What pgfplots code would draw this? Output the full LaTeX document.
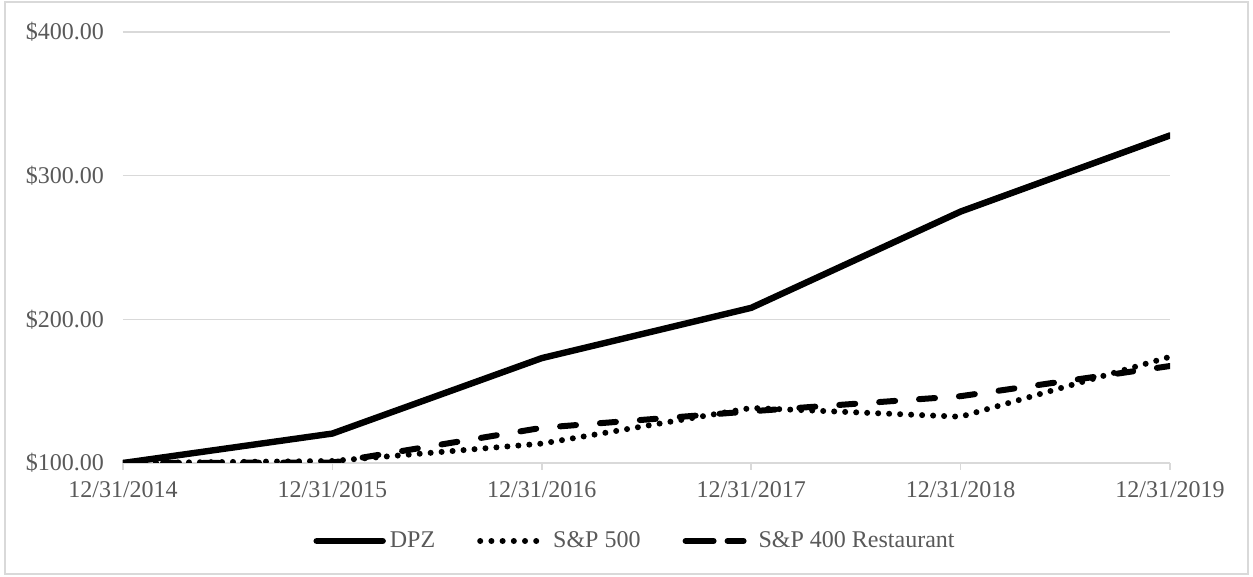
\documentclass[border=0pt]{standalone}
\usepackage{fontspec}
\setmainfont{Liberation Serif}
\usepackage{pgfplots}
\pgfplotsset{compat=1.18}
\definecolor{txt}{HTML}{595959}
\definecolor{grd}{HTML}{D9D9D9}

\tikzset{
    dpz/.style={black, line width=3.2pt, line cap=round, line join=round},
    spx/.style={black, line width=3pt, line cap=round, dash pattern=on 0pt off 5.5pt},
    rest/.style={black, line width=3pt, line cap=round, dash pattern=on 8pt off 12pt},
}

\begin{document}
\begin{tikzpicture}
\begin{axis}[
    scale only axis,
    width=523.5pt, height=215.5pt,
    xmin=0, xmax=5, ymin=100, ymax=400,
    xtick={0,1,2,3,4,5},
    xticklabels={12/31/2014,12/31/2015,12/31/2016,12/31/2017,12/31/2018,12/31/2019},
    ytick={100,200,300,400},
    yticklabels={\$100.00,\$200.00,\$300.00,\$400.00},
    axis x line*=bottom, axis y line*=left,
    x axis line style={grd, line width=0.75pt, -},
    y axis line style={draw=none},
    ymajorgrids, grid style={grd, line width=0.75pt},
    xtick style={grd, line width=0.75pt},
    ytick style={draw=none},
    tick align=outside, major tick length=3.5pt,
    tick label style={font=\fontsize{12}{14}\selectfont, text=txt},
    yticklabel style={anchor=east, xshift=-2.5pt},
    xticklabel style={anchor=north, yshift=-2pt},
    legend columns=3,
    legend style={draw=none, fill=none, at={(0.49,-0.181)}, anchor=center,
        font=\fontsize{12}{14}\selectfont, text=txt,
        /tikz/every even column/.append style={column sep=19pt},
        nodes={inner xsep=2pt}},
]
\addplot[dpz, forget plot] coordinates {(0,100) (1,120.5) (2,173) (3,208) (4,275) (5,328)};
\addplot[spx, forget plot] coordinates {(0,100) (1,101.4) (2,113.5) (3,138.3) (4,132.2) (5,173.9)};
\addplot[rest, forget plot] coordinates {(0,100) (1,100.3) (2,124.5) (3,136) (4,146.5) (5,167.5)};
\addlegendimage{legend image code/.code={
    \draw[black, line width=3.2pt, line cap=round] (0pt,0pt) -- (33pt,0pt);}}
\addlegendentry{DPZ}
\addlegendimage{legend image code/.code={
    \path[draw=none] (0pt,0pt) -- (34.5pt,0pt);
    \draw[black, line width=3pt, line cap=round, dash pattern=on 0pt off 5.6pt] (0pt,0pt) -- (28.1pt,0pt);}}
\addlegendentry{S\&P 500}
\addlegendimage{legend image code/.code={
    \path[draw=none] (0pt,0pt) -- (34.5pt,0pt);
    \draw[black, line width=3pt, line cap=round, dash pattern=on 14pt off 7pt] (0pt,0pt) -- (29pt,0pt);}}
\addlegendentry{S\&P 400 Restaurant}
\end{axis}
\draw[grd, line width=0.75pt] (-59pt,-55.5pt) rectangle (562.5pt,230.5pt);
\pgfresetboundingbox
\useasboundingbox (-61.5pt,-57pt) rectangle (565pt,231.5pt);
\end{tikzpicture}
\end{document}
